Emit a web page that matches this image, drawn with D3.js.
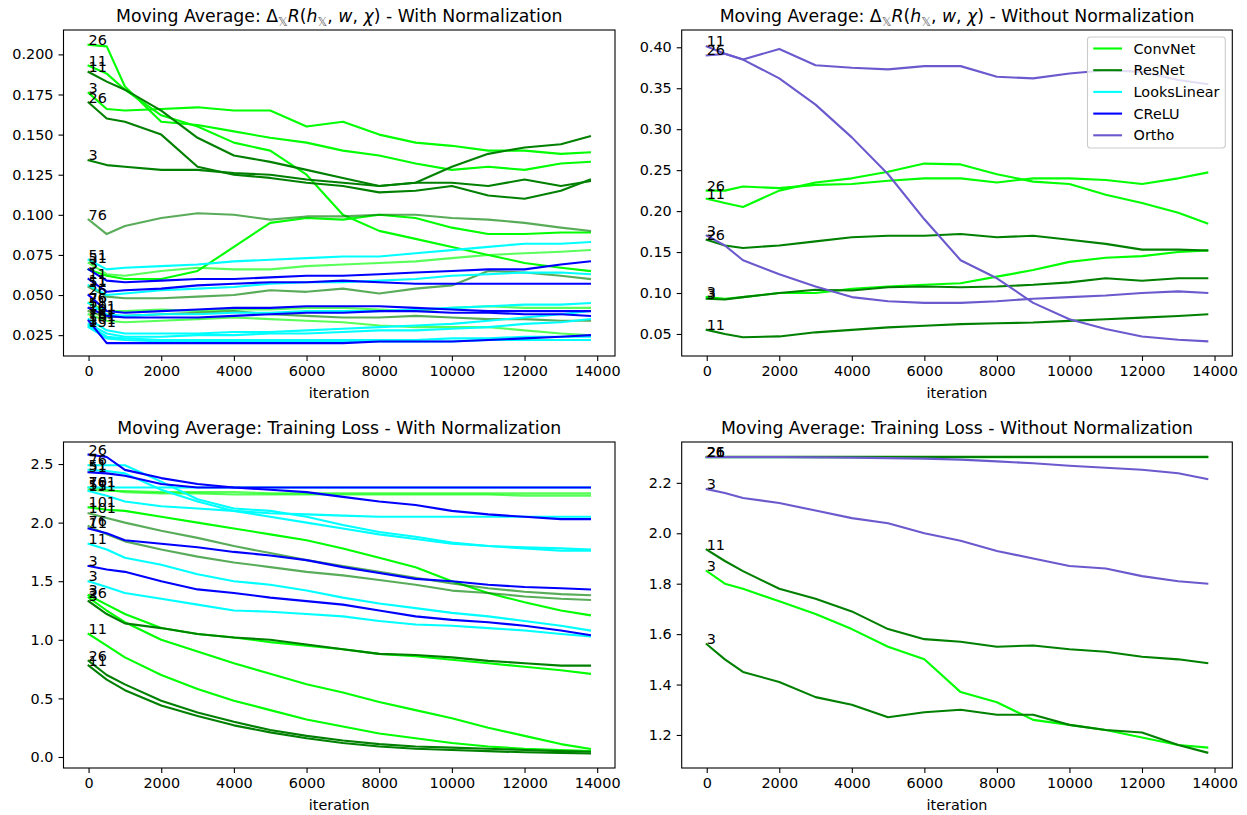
<!DOCTYPE html>
<html>
<head>
<meta charset="utf-8">
<script src="https://cdn.jsdelivr.net/npm/d3@7"></script>
<style>
  body { margin: 0; background: #fff; }
  svg { font-family: "DejaVu Sans", sans-serif; }
</style>
</head>
<body>
<svg id="chart" width="1247" height="815"></svg>
<script>
const iters = [0, 500, 1000, 2000, 3000, 4000, 5000, 6000, 7000, 8000, 9000, 10000, 11000, 12000, 13000, 13800];

const models = ["ConvNet", "ResNet", "LooksLinear", "CReLU", "Ortho"];
const modelColors = ["#00ff00", "#008000", "#00ffff", "#0000ff", "#6a5acd"];

// Delta R, with normalization
const drNorm = [
  { model: "ConvNet", depth: "26", values: [0.206, 0.205, 0.180, 0.158, 0.156, 0.152, 0.148, 0.145, 0.140, 0.137, 0.132, 0.128, 0.130, 0.128, 0.132, 0.133] },
  { model: "ConvNet", depth: "11", values: [0.193, 0.188, 0.178, 0.162, 0.155, 0.145, 0.140, 0.125, 0.100, 0.090, 0.085, 0.080, 0.075, 0.070, 0.067, 0.065] },
  { model: "ConvNet", depth: "3", values: [0.176, 0.166, 0.165, 0.166, 0.167, 0.165, 0.165, 0.155, 0.158, 0.150, 0.145, 0.143, 0.140, 0.140, 0.138, 0.139] },
  { model: "ConvNet", depth: "3", values: [0.066, 0.062, 0.060, 0.060, 0.065, 0.080, 0.095, 0.098, 0.097, 0.100, 0.098, 0.092, 0.088, 0.088, 0.089, 0.089] },
  { model: "ConvNet", depth: "51", values: [0.070, 0.063, 0.062, 0.065, 0.067, 0.066, 0.066, 0.068, 0.069, 0.070, 0.071, 0.073, 0.075, 0.076, 0.077, 0.078] },
  { model: "ConvNet", depth: "76", values: [0.045, 0.040, 0.040, 0.041, 0.040, 0.041, 0.041, 0.042, 0.042, 0.041, 0.040, 0.042, 0.043, 0.042, 0.042, 0.042] },
  { model: "ConvNet", depth: "101", values: [0.038, 0.034, 0.033, 0.034, 0.035, 0.036, 0.035, 0.034, 0.033, 0.031, 0.030, 0.030, 0.030, 0.028, 0.026, 0.025] },
  { model: "ResNet", depth: "11", values: [0.189, 0.183, 0.178, 0.165, 0.148, 0.137, 0.133, 0.128, 0.123, 0.118, 0.120, 0.130, 0.138, 0.142, 0.144, 0.149] },
  { model: "ResNet", depth: "26", values: [0.170, 0.160, 0.158, 0.150, 0.130, 0.125, 0.123, 0.120, 0.118, 0.114, 0.115, 0.118, 0.112, 0.110, 0.115, 0.122] },
  { model: "ResNet", depth: "3", values: [0.134, 0.131, 0.130, 0.128, 0.128, 0.126, 0.125, 0.122, 0.120, 0.118, 0.120, 0.120, 0.118, 0.122, 0.118, 0.121] },
  { model: "ResNet", depth: "76", values: [0.097, 0.088, 0.093, 0.098, 0.101, 0.100, 0.097, 0.099, 0.099, 0.100, 0.100, 0.098, 0.097, 0.095, 0.092, 0.090] },
  { model: "ResNet", depth: "51", values: [0.055, 0.049, 0.048, 0.048, 0.049, 0.050, 0.053, 0.052, 0.054, 0.051, 0.054, 0.056, 0.065, 0.064, 0.062, 0.060] },
  { model: "ResNet", depth: "101", values: [0.040, 0.036, 0.037, 0.038, 0.039, 0.040, 0.038, 0.037, 0.036, 0.036, 0.037, 0.036, 0.035, 0.035, 0.034, 0.034] },
  { model: "LooksLinear", depth: "51", values: [0.072, 0.066, 0.067, 0.068, 0.069, 0.071, 0.072, 0.073, 0.074, 0.074, 0.076, 0.078, 0.080, 0.082, 0.082, 0.083] },
  { model: "LooksLinear", depth: "11", values: [0.056, 0.050, 0.051, 0.053, 0.054, 0.055, 0.057, 0.058, 0.058, 0.059, 0.060, 0.062, 0.063, 0.064, 0.064, 0.063] },
  { model: "LooksLinear", depth: "26", values: [0.045, 0.038, 0.037, 0.038, 0.038, 0.039, 0.039, 0.040, 0.040, 0.040, 0.041, 0.042, 0.043, 0.044, 0.044, 0.045] },
  { model: "LooksLinear", depth: "76", values: [0.035, 0.028, 0.026, 0.026, 0.026, 0.027, 0.027, 0.028, 0.029, 0.030, 0.031, 0.032, 0.034, 0.036, 0.038, 0.040] },
  { model: "LooksLinear", depth: "101", values: [0.032, 0.026, 0.024, 0.024, 0.025, 0.025, 0.026, 0.026, 0.027, 0.028, 0.028, 0.029, 0.030, 0.032, 0.033, 0.035] },
  { model: "LooksLinear", depth: "151", values: [0.030, 0.023, 0.022, 0.021, 0.021, 0.021, 0.021, 0.021, 0.021, 0.021, 0.021, 0.021, 0.022, 0.022, 0.022, 0.022] },
  { model: "LooksLinear", depth: "3", values: [0.031, 0.024, 0.023, 0.022, 0.022, 0.022, 0.022, 0.022, 0.022, 0.022, 0.022, 0.023, 0.023, 0.024, 0.024, 0.024] },
  { model: "CReLU", depth: "3", values: [0.066, 0.059, 0.058, 0.059, 0.060, 0.060, 0.061, 0.062, 0.062, 0.063, 0.064, 0.065, 0.066, 0.066, 0.069, 0.071] },
  { model: "CReLU", depth: "11", values: [0.060, 0.052, 0.053, 0.054, 0.056, 0.057, 0.058, 0.058, 0.059, 0.058, 0.057, 0.057, 0.057, 0.057, 0.057, 0.057] },
  { model: "CReLU", depth: "26", values: [0.050, 0.040, 0.039, 0.040, 0.041, 0.042, 0.042, 0.043, 0.043, 0.043, 0.042, 0.041, 0.040, 0.040, 0.040, 0.040] },
  { model: "CReLU", depth: "51", values: [0.042, 0.037, 0.036, 0.036, 0.036, 0.037, 0.038, 0.039, 0.039, 0.040, 0.040, 0.039, 0.039, 0.038, 0.038, 0.037] },
  { model: "CReLU", depth: "151", values: [0.034, 0.020, 0.020, 0.020, 0.020, 0.020, 0.020, 0.020, 0.020, 0.021, 0.021, 0.021, 0.022, 0.023, 0.024, 0.025] }
];

// Delta R, without normalization
const drPlain = [
  { model: "ConvNet", depth: "26", values: [0.225, 0.225, 0.230, 0.228, 0.232, 0.233, 0.237, 0.240, 0.240, 0.235, 0.240, 0.240, 0.238, 0.233, 0.240, 0.247] },
  { model: "ConvNet", depth: "11", values: [0.215, 0.210, 0.205, 0.225, 0.235, 0.240, 0.248, 0.258, 0.257, 0.245, 0.236, 0.233, 0.220, 0.210, 0.198, 0.185] },
  { model: "ConvNet", depth: "3", values: [0.095, 0.093, 0.095, 0.100, 0.100, 0.105, 0.108, 0.110, 0.112, 0.120, 0.128, 0.138, 0.143, 0.145, 0.150, 0.152] },
  { model: "ResNet", depth: "26", values: [0.165, 0.158, 0.155, 0.158, 0.163, 0.168, 0.170, 0.170, 0.172, 0.168, 0.170, 0.165, 0.160, 0.153, 0.153, 0.152] },
  { model: "ResNet", depth: "3", values: [0.093, 0.092, 0.095, 0.100, 0.104, 0.103, 0.107, 0.108, 0.107, 0.108, 0.110, 0.113, 0.118, 0.115, 0.118, 0.118] },
  { model: "ResNet", depth: "11", values: [0.055, 0.050, 0.046, 0.047, 0.052, 0.055, 0.058, 0.060, 0.062, 0.063, 0.064, 0.066, 0.068, 0.070, 0.072, 0.074] },
  { model: "Ortho", depth: "11", values: [0.401, 0.392, 0.385, 0.398, 0.378, 0.375, 0.373, 0.377, 0.377, 0.364, 0.362, 0.368, 0.372, 0.370, 0.360, 0.355] },
  { model: "Ortho", depth: "26", values: [0.390, 0.392, 0.385, 0.362, 0.330, 0.290, 0.245, 0.190, 0.140, 0.118, 0.088, 0.068, 0.056, 0.047, 0.043, 0.041] },
  { model: "Ortho", depth: "3", values: [0.170, 0.158, 0.140, 0.123, 0.108, 0.095, 0.090, 0.088, 0.088, 0.090, 0.093, 0.095, 0.097, 0.100, 0.102, 0.100] }
];

// training loss, with normalization
const lossNorm = [
  { model: "ConvNet", depth: "76", values: [2.30, 2.28, 2.26, 2.25, 2.25, 2.24, 2.24, 2.24, 2.24, 2.24, 2.24, 2.24, 2.24, 2.23, 2.23, 2.23] },
  { model: "ConvNet", depth: "51", values: [2.28, 2.27, 2.27, 2.26, 2.26, 2.26, 2.25, 2.25, 2.25, 2.25, 2.25, 2.25, 2.25, 2.25, 2.25, 2.25] },
  { model: "ConvNet", depth: "101", values: [2.13, 2.11, 2.10, 2.05, 2.00, 1.95, 1.90, 1.85, 1.78, 1.70, 1.62, 1.50, 1.40, 1.32, 1.25, 1.21] },
  { model: "ConvNet", depth: "3", values: [1.38, 1.30, 1.22, 1.10, 1.05, 1.02, 0.98, 0.95, 0.92, 0.88, 0.86, 0.83, 0.80, 0.77, 0.74, 0.71] },
  { model: "ConvNet", depth: "26", values: [1.36, 1.25, 1.15, 1.00, 0.90, 0.80, 0.71, 0.62, 0.55, 0.47, 0.40, 0.33, 0.25, 0.18, 0.11, 0.07] },
  { model: "ConvNet", depth: "11", values: [1.05, 0.95, 0.85, 0.70, 0.58, 0.48, 0.40, 0.32, 0.26, 0.20, 0.16, 0.12, 0.09, 0.07, 0.06, 0.05] },
  { model: "ResNet", depth: "101", values: [2.08, 2.04, 2.00, 1.93, 1.87, 1.80, 1.74, 1.68, 1.63, 1.58, 1.53, 1.48, 1.44, 1.41, 1.39, 1.38] },
  { model: "ResNet", depth: "76", values: [1.97, 1.90, 1.84, 1.77, 1.71, 1.66, 1.62, 1.58, 1.55, 1.51, 1.47, 1.42, 1.40, 1.37, 1.35, 1.34] },
  { model: "ResNet", depth: "3", values: [1.33, 1.22, 1.14, 1.10, 1.05, 1.02, 1.00, 0.96, 0.92, 0.88, 0.87, 0.85, 0.82, 0.80, 0.78, 0.78] },
  { model: "ResNet", depth: "26", values: [0.82, 0.70, 0.62, 0.48, 0.38, 0.30, 0.23, 0.18, 0.14, 0.11, 0.09, 0.08, 0.07, 0.06, 0.05, 0.045] },
  { model: "ResNet", depth: "11", values: [0.78, 0.66, 0.57, 0.44, 0.35, 0.27, 0.21, 0.16, 0.12, 0.09, 0.07, 0.06, 0.05, 0.04, 0.035, 0.03] },
  { model: "LooksLinear", depth: "76", values: [2.49, 2.49, 2.49, 2.35, 2.20, 2.12, 2.10, 2.05, 1.98, 1.92, 1.88, 1.83, 1.80, 1.78, 1.76, 1.76] },
  { model: "LooksLinear", depth: "51", values: [2.45, 2.44, 2.42, 2.28, 2.18, 2.10, 2.05, 2.00, 1.95, 1.90, 1.86, 1.82, 1.80, 1.79, 1.78, 1.77] },
  { model: "LooksLinear", depth: "101", values: [2.30, 2.30, 2.30, 2.30, 2.30, 2.30, 2.30, 2.30, 2.30, 2.30, 2.30, 2.30, 2.30, 2.30, 2.30, 2.30] },
  { model: "LooksLinear", depth: "151", values: [2.27, 2.23, 2.18, 2.14, 2.12, 2.10, 2.08, 2.07, 2.06, 2.05, 2.05, 2.05, 2.05, 2.05, 2.05, 2.05] },
  { model: "LooksLinear", depth: "11", values: [1.82, 1.77, 1.70, 1.64, 1.56, 1.50, 1.47, 1.42, 1.36, 1.31, 1.27, 1.23, 1.20, 1.16, 1.12, 1.08] },
  { model: "LooksLinear", depth: "3", values: [1.50, 1.45, 1.40, 1.35, 1.30, 1.25, 1.24, 1.22, 1.20, 1.16, 1.13, 1.12, 1.10, 1.08, 1.05, 1.03] },
  { model: "CReLU", depth: "26", values: [2.58, 2.56, 2.45, 2.38, 2.33, 2.30, 2.28, 2.26, 2.22, 2.18, 2.15, 2.10, 2.07, 2.05, 2.03, 2.03] },
  { model: "CReLU", depth: "51", values: [2.43, 2.42, 2.40, 2.33, 2.30, 2.30, 2.30, 2.30, 2.30, 2.30, 2.30, 2.30, 2.30, 2.30, 2.30, 2.30] },
  { model: "CReLU", depth: "11", values: [1.95, 1.91, 1.85, 1.82, 1.79, 1.75, 1.72, 1.68, 1.62, 1.57, 1.52, 1.50, 1.47, 1.45, 1.44, 1.43] },
  { model: "CReLU", depth: "3", values: [1.63, 1.60, 1.58, 1.50, 1.43, 1.40, 1.36, 1.33, 1.30, 1.25, 1.20, 1.17, 1.15, 1.12, 1.08, 1.04] }
];

// training loss, without normalization
const lossPlain = [
  { model: "ConvNet", depth: "26", values: [2.302, 2.302, 2.302, 2.302, 2.302, 2.302, 2.302, 2.302, 2.302, 2.302, 2.302, 2.302, 2.302, 2.302, 2.302, 2.302] },
  { model: "ConvNet", depth: "3", values: [1.85, 1.80, 1.78, 1.73, 1.68, 1.62, 1.55, 1.50, 1.37, 1.33, 1.26, 1.24, 1.22, 1.19, 1.16, 1.15] },
  { model: "ResNet", depth: "26", values: [2.303, 2.303, 2.303, 2.303, 2.303, 2.303, 2.303, 2.303, 2.303, 2.303, 2.303, 2.303, 2.303, 2.303, 2.303, 2.303] },
  { model: "ResNet", depth: "11", values: [1.935, 1.89, 1.85, 1.78, 1.74, 1.69, 1.62, 1.58, 1.57, 1.55, 1.555, 1.54, 1.53, 1.51, 1.50, 1.485] },
  { model: "ResNet", depth: "3", values: [1.56, 1.50, 1.45, 1.41, 1.35, 1.32, 1.27, 1.29, 1.30, 1.28, 1.28, 1.24, 1.22, 1.21, 1.16, 1.13] },
  { model: "Ortho", depth: "21", values: [2.302, 2.302, 2.302, 2.302, 2.301, 2.300, 2.298, 2.296, 2.292, 2.285, 2.278, 2.268, 2.260, 2.252, 2.238, 2.215] },
  { model: "Ortho", depth: "3", values: [2.175, 2.16, 2.14, 2.12, 2.09, 2.06, 2.04, 2.00, 1.97, 1.93, 1.90, 1.87, 1.86, 1.83, 1.81, 1.80] }
];

const xTicks = [0, 2000, 4000, 6000, 8000, 10000, 12000, 14000];
const drNormTicks = [0.025, 0.050, 0.075, 0.100, 0.125, 0.150, 0.175, 0.200];
const drPlainTicks = [0.05, 0.10, 0.15, 0.20, 0.25, 0.30, 0.35, 0.40];
const lossNormTicks = [0.0, 0.5, 1.0, 1.5, 2.0, 2.5];
const lossPlainTicks = [1.2, 1.4, 1.6, 1.8, 2.0, 2.2];

// title pieces: [text, kind] where kind is "it" (math italic) or "sub" (subscript)
const drTitle = [["Moving Average: Δ"], ["𝕏", "sub"], ["R", "it"], ["("], ["h", "it"], ["𝕏", "sub"], [", "], ["w", "it"], [", "], ["χ", "it"], [")"]];
const lossTitle = [["Moving Average: Training Loss"]];

// ---------------------------------------------------------------
const svg = d3.select("#chart");
const fs = 14.4;          // 10pt
const titleFs = 17.3;     // 12pt
const tickLen = 5, tickPad = 5;

const cols = [{ x0: 63.5, x1: 615 }, { x0: 681.7, x1: 1232.3 }];
const rows = [{ y0: 30, y1: 356 }, { y0: 442, y1: 768 }];

const panels = [
  { series: drNorm, col: 0, row: 0, yDomain: [0.0120, 0.2152], yTicks: drNormTicks, fmt: ".3f",
    title: drTitle, suffix: " - With Normalization",
    faded: ["ConvNet-51", "ConvNet-76", "ConvNet-101", "ResNet-76", "ResNet-51", "ResNet-101"] },
  { series: drPlain, col: 1, row: 0, yDomain: [0.0231, 0.4211], yTicks: drPlainTicks, fmt: ".2f",
    title: drTitle, suffix: " - Without Normalization", faded: [], legend: true },
  { series: lossNorm, col: 0, row: 1, yDomain: [-0.094, 2.688], yTicks: lossNormTicks, fmt: ".1f",
    title: lossTitle, suffix: " - With Normalization",
    faded: ["ConvNet-76", "ConvNet-51", "ResNet-101", "ResNet-76"] },
  { series: lossPlain, col: 1, row: 1, yDomain: [1.069, 2.362], yTicks: lossPlainTicks, fmt: ".1f",
    title: lossTitle, suffix: " - Without Normalization", faded: [] }
];

const color = d3.scaleOrdinal().domain(models).range(modelColors);

panels.forEach(p => {
  const c = cols[p.col], r = rows[p.row];
  const x = d3.scaleLinear().domain([-690, 14490]).range([c.x0, c.x1]);
  const y = d3.scaleLinear().domain(p.yDomain).range([r.y1, r.y0]);
  const g = svg.append("g");

  // lines
  const line = d3.line()
    .x((d, i) => x(iters[i]))
    .y(d => y(d));

  g.selectAll("path.series")
    .data(p.series)
    .join("path")
    .attr("class", "series")
    .attr("fill", "none")
    .attr("stroke", d => color(d.model))
    .attr("stroke-opacity", d => p.faded.includes(d.model + "-" + d.depth) ? 0.65 : 1)
    .attr("stroke-width", 2.1)
    .attr("stroke-linejoin", "round")
    .attr("stroke-linecap", "square")
    .attr("d", d => line(d.values));

  // depth labels at the start of each line
  g.selectAll("text.depth")
    .data(p.series)
    .join("text")
    .attr("class", "depth")
    .attr("x", x(0))
    .attr("y", d => y(d.values[0]))
    .attr("font-size", fs)
    .attr("fill", "#000")
    .text(d => d.depth);

  // axes
  const xAxis = g.append("g")
    .attr("transform", `translate(0,${r.y1})`)
    .call(d3.axisBottom(x).tickValues(xTicks).tickFormat(d3.format("d"))
      .tickSize(tickLen).tickPadding(tickPad).tickSizeOuter(0));
  const yAxis = g.append("g")
    .attr("transform", `translate(${c.x0},0)`)
    .call(d3.axisLeft(y).tickValues(p.yTicks).tickFormat(d3.format(p.fmt))
      .tickSize(tickLen).tickPadding(tickPad).tickSizeOuter(0));
  [xAxis, yAxis].forEach(a => {
    a.select(".domain").remove();
    a.selectAll("line").attr("stroke", "#000").attr("stroke-width", 1.1);
    a.selectAll("text").attr("font-size", fs).attr("fill", "#000")
      .attr("font-family", "DejaVu Sans, sans-serif");
  });

  // frame
  g.append("rect")
    .attr("x", c.x0).attr("y", r.y0)
    .attr("width", c.x1 - c.x0).attr("height", r.y1 - r.y0)
    .attr("fill", "none").attr("stroke", "#000").attr("stroke-width", 1.1);

  // x label
  g.append("text")
    .attr("x", (c.x0 + c.x1) / 2)
    .attr("y", r.y1 + 42)
    .attr("text-anchor", "middle")
    .attr("font-size", fs)
    .text("iteration");

  // title with mathtext-like pieces
  const t = g.append("text")
    .attr("x", (c.x0 + c.x1) / 2)
    .attr("y", r.y0 - 8.3)
    .attr("text-anchor", "middle")
    .attr("font-size", titleFs);
  let shifted = 0;
  p.title.concat([[p.suffix]]).forEach(([txt, kind]) => {
    const ts = t.append("tspan").text(txt);
    if (kind === "sub") {
      ts.attr("dy", 4 - shifted).attr("font-size", 12.1).attr("fill", "#666");
      shifted = 4;
    } else {
      if (shifted) ts.attr("dy", -shifted);
      shifted = 0;
      if (kind === "it") ts.attr("font-style", "italic");
    }
  });

  // legend
  if (p.legend) {
    const lg = g.append("g");
    const box = lg.append("rect");
    const rowH = 21.7, top = r.y0 + 7;
    const items = lg.selectAll("g.item")
      .data(models)
      .join("g")
      .attr("class", "item");
    items.append("line")
      .attr("x1", 0).attr("x2", 28.8)
      .attr("stroke", d => color(d)).attr("stroke-width", 2.1);
    items.append("text")
      .attr("x", 28.8 + 11.5)
      .attr("dy", "0.35em")
      .attr("font-size", fs)
      .text(d => d);
    let maxW = 0;
    items.selectAll("text").each(function () { maxW = Math.max(maxW, this.getComputedTextLength()); });
    const w = 5.8 + 28.8 + 11.5 + maxW + 5.8;
    const left = c.x1 - 7 - w;
    items.attr("transform", (d, i) => `translate(${left + 5.8},${top + 11.5 + i * rowH})`);
    box.attr("x", left).attr("y", top)
      .attr("width", w).attr("height", 5 * rowH + 2.5)
      .attr("rx", 2.9)
      .attr("fill", "#fff").attr("fill-opacity", 0.8)
      .attr("stroke", "#cccccc").attr("stroke-width", 1.1);
  }
});
</script>
</body>
</html>
